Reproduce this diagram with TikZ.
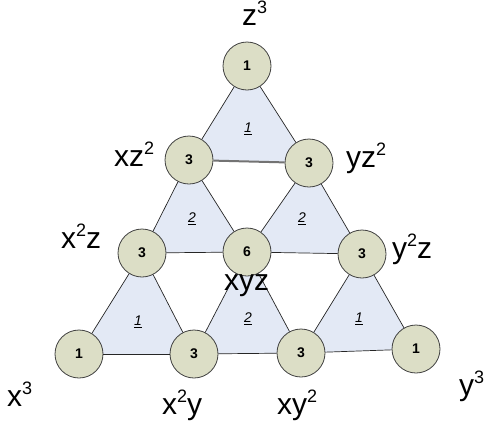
\documentclass[tikz,border=0pt]{standalone}
\usepackage{fontspec}
\setsansfont{Liberation Sans}
\usetikzlibrary{backgrounds}
\definecolor{termgreen}{HTML}{DCDEC6}
\definecolor{cellblue}{HTML}{E3E9F5}
\newcommand{\pw}[1]{\raisebox{12pt}{\fontsize{18}{18}\selectfont #1}}

\begin{document}
\begin{tikzpicture}[x=1pt,y=-1pt,
  term/.style={circle, draw=black!75, line width=0.8pt, fill=termgreen, minimum size=48pt, inner sep=0pt, font=\sffamily\bfseries\fontsize{14}{14}\selectfont},
  mono/.style={anchor=base west, inner sep=0pt, font=\sffamily\fontsize{30}{30}\selectfont},
  cell/.style={fill=cellblue},
  side/.style={draw=black!85, line width=0.7pt},
  mult/.style={font=\sffamily\itshape\fontsize{14}{14}\selectfont}]
\useasboundingbox (0,0) rectangle (498,437);
% coefficient nodes
\node [term] (n003) at (247,66) {1};
\node [term] (n102) at (189,160) {3};
\node [term] (n012) at (309,163) {3};
\node [term] (n201) at (142,253) {3};
\node [term] (n111) at (247,252) {6};
\node [term] (n021) at (362,254) {3};
\node [term] (n300) at (79,354) {1};
\node [term] (n210) at (194,354) {3};
\node [term] (n120) at (301,353) {3};
\node [term] (n030) at (416,349) {1};
% cells
\begin{pgfonlayer}{background}
\fill [cell] (n003.center) -- (n102.center) -- (n012.center) -- cycle;
\fill [cell] (n102.center) -- (n201.center) -- (n111.center) -- cycle;
\fill [cell] (n012.center) -- (n111.center) -- (n021.center) -- cycle;
\fill [cell] (n201.center) -- (n300.center) -- (n210.center) -- cycle;
\fill [cell] (n111.center) -- (n210.center) -- (n120.center) -- cycle;
\fill [cell] (n021.center) -- (n120.center) -- (n030.center) -- cycle;
\end{pgfonlayer}
\draw [side] (n003) -- (n102);
\draw [side] (n003) -- (n012);
\draw [draw=black!55, line width=2pt] (n102) -- (n012);
\draw [side] (n102) -- (n201);
\draw [side] (n102) -- (n111);
\draw [side] (n012) -- (n111);
\draw [side] (n012) -- (n021);
\draw [side] (n201) -- (n111);
\draw [side] (n111) -- (n021);
\draw [side] (n201) -- (n300);
\draw [side] (n201) -- (n210);
\draw [side] (n111) -- (n210);
\draw [side] (n111) -- (n120);
\draw [side] (n021) -- (n120);
\draw [side] (n021) -- (n030);
\draw [side] (n300) -- (n210);
\draw [side] (n210) -- (n120);
\draw [side] (n120) -- (n030);
% cell counts
\node [mult] (c1) at (248,129) {\underline{1}};
\node [mult] (c2) at (192,219) {\underline{2}};
\node [mult] (c3) at (302,219) {\underline{2}};
\node [mult] (c4) at (138,322) {\underline{1}};
\node [mult] (c5) at (248,319) {\underline{2}};
\node [mult] (c6) at (359,319) {\underline{1}};
% monomials
\node [mono] (m003) at (242,25) {z\pw{3}};
\node [mono] (m102) at (114,166) {xz\pw{2}};
\node [mono] (m012) at (346,167) {yz\pw{2}};
\node [mono] (m201) at (61,248) {x\pw{2}z};
\node [mono] (m111) at (224,290) {xyz};
\node [mono] (m021) at (392,258) {y\pw{2}z};
\node [mono] (m300) at (7,406) {x\pw{3}};
\node [mono] (m210) at (162,414) {x\pw{2}y};
\node [mono] (m120) at (277,414) {xy\pw{2}};
\node [mono] (m030) at (459,395) {y\pw{3}};
\end{tikzpicture}
\end{document}
